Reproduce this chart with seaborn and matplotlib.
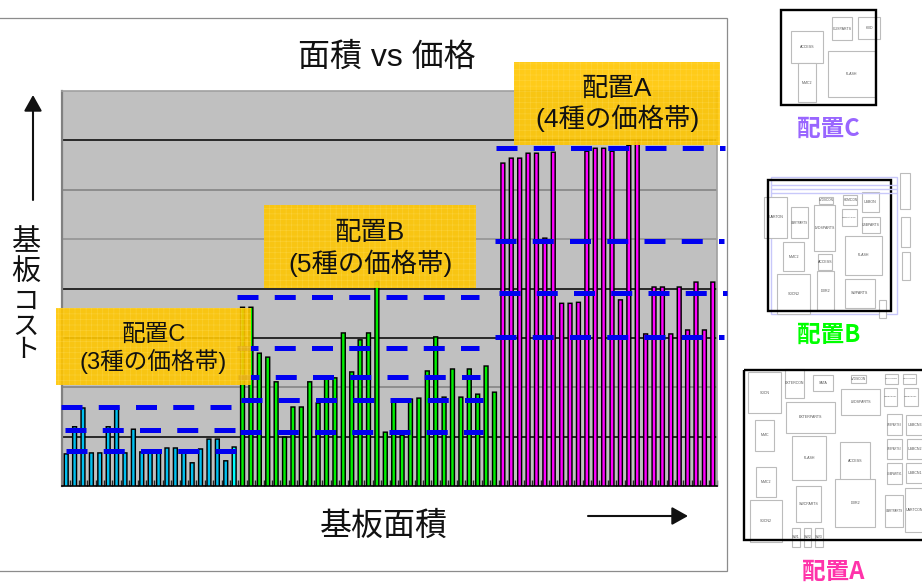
import numpy as np
import pandas as pd
import matplotlib
matplotlib.use("Agg")
import matplotlib.pyplot as plt
from matplotlib.patches import Rectangle, FancyArrowPatch
import seaborn as sns

sns.set_theme(style="white")
plt.rcParams['font.family'] = ['Liberation Sans', 'Noto Sans CJK JP', 'DejaVu Sans']
plt.rcParams['hatch.linewidth'] = 0.4

W, H = 922, 585

# Board cost for each design, ordered by board area
cost_c = [0.65, 1.20, 1.58, 0.67, 0.67, 1.20, 1.58, 0.67, 1.15, 0.69, 0.69, 0.69, 0.77, 0.77, 0.69, 0.47, 0.75,
          0.95, 0.95, 0.51, 0.79]
cost_b = [3.62, 3.62, 2.69, 2.61, 2.11, 0.99, 1.60, 1.60, 2.11, 1.68, 2.19, 2.19, 3.10, 2.31, 2.96, 3.10, 4.15,
          1.09, 1.70, 1.03, 1.76, 1.78, 2.33, 3.02, 1.80, 2.37, 1.80, 2.37, 1.86, 2.43, 1.90]
cost_a = [6.54, 6.64, 6.64, 6.74, 6.74, 5.02, 6.76, 3.70, 3.70, 3.72, 6.78, 6.84, 6.84, 6.78, 3.77, 6.90, 7.00,
          3.08, 4.03, 4.03, 3.08, 4.03, 3.16, 4.13, 3.16, 4.13]
layout = ["C"] * len(cost_c) + ["B"] * len(cost_b) + ["A"] * len(cost_a)
costs = cost_c + cost_b + cost_a

# Price bands per layout: cost level, first and last position along the area axis
bands_c = [(1.60, -0.62, 19.8), (1.13, -0.14, 20.17), (0.71, -0.02, 20.17)]
bands_b = [(3.83, 20.29, 49.2), (2.79, 20.29, 49.2), (2.21, 20.4, 49.3), (1.74, 20.77, 49.68), (1.09, 20.65, 49.68)]
bands_a = [(6.85, 51.23, 78.4), (4.96, 51.1, 78.3), (3.91, 51.5, 78.7), (3.02, 51.1, 78.3)]

frame = pd.DataFrame({"pos": range(len(costs)), "cost": costs, "layout": layout})
palette = {"C": "#00BFEF", "B": "#00F000", "A": "#FF00FF"}

fig = plt.figure(figsize=(W / 100, H / 100), dpi=100, facecolor="white")
fig.add_artist(Rectangle((-10 / W, 1 - 571 / H), 737 / W, 553 / H, transform=fig.transFigure,
                         fc="white", ec="#8c8c8c", lw=0.9, zorder=-1))

ax = fig.add_axes([62 / W, 1 - 486 / H, 655 / W, 395 / H])
ax.set_facecolor("#C0C0C0")
sns.barplot(data=frame, x="pos", y="cost", hue="layout", palette=palette, dodge=False, legend=False,
            width=0.46, edgecolor="black", linewidth=1.05, saturation=1, ax=ax, zorder=3)
ax.patches[20].set_facecolor("#00FFFF")
# Keep every bar the same width instead of rounding edges to whole pixels
for bar in ax.patches:
    bar.set_snap(False)
ax.set_xlim(-0.5, len(costs) - 0.5)
ax.set_ylim(0, 8)
ax.set_xlabel("")
ax.set_ylabel("")
ax.set_yticks([])
ax.set_xticks(np.arange(0, len(costs) + 1) - 0.5)
ax.set_xticklabels([])
ax.tick_params(axis="x", direction="in", length=4, width=1, bottom=True, zorder=4)
for i, tick in enumerate(ax.xaxis.get_major_ticks()):
    tick.tick1line.set_color("black" if i % 2 == 0 else "#8a8a8a")

# Alternating crisp and faded horizontal grid
grid_shades = {1: "black", 2: "#808080", 3: "#909090", 4: "black", 5: "black", 6: "#808080", 7: "black"}
for level, shade in grid_shades.items():
    ax.axhline(8 - level, color=shade, lw=1.1, zorder=1)

for side in ("top", "right"):
    ax.spines[side].set_color("#a0a0a0")
    ax.spines[side].set_linewidth(1.2)
ax.spines["left"].set_color("#808080")
ax.spines["left"].set_linewidth(1.6)
ax.spines["bottom"].set_color("black")
ax.spines["bottom"].set_linewidth(1.2)

for level, start, stop in bands_c + bands_b + bands_a:
    ax.plot([start, stop], [level, level], color="#0000F0", lw=3.6, clip_on=False, zorder=6,
            dash_capstyle="butt", linestyle=(0, (4.2, 3.25)))

# Overlay in figure pixels for callouts, captions and layout sketches
ov = fig.add_axes([0, 0, 1, 1], facecolor="none")
ov.set_xlim(0, W)
ov.set_ylim(H, 0)
ov.axis("off")
ov.set_zorder(10)

for x0, y0, x1, y1, txt, size, y_mid in [(56, 308, 251, 385, "配置C\n(3種の価格帯)", 17, 349),
                                         (264, 205, 476, 288, "配置B\n(5種の価格帯)", 19, 249),
                                         (514, 62, 720, 145, "配置A\n(4種の価格帯)", 19, 104.5)]:
    ov.add_patch(Rectangle((x0, y0), x1 - x0, y1 - y0, fc="#FFC600", ec="none", alpha=0.9, zorder=2))
    ov.add_patch(Rectangle((x0, y0), x1 - x0, y1 - y0, fc="none", ec=(1, 0.88, 0.4, 0.45), lw=0, hatch="+++",
                           zorder=2.5))
    ov.text((x0 + x1) / 2, y_mid, txt, ha="center", va="center", fontsize=size, color="#111111",
            linespacing=1.2, zorder=3)

ov.text(387, 58, "面積 vs 価格", ha="center", va="center", fontsize=23, color="#111111")
ov.text(384, 527, "基板面積", ha="center", va="center", fontsize=23, color="#111111")
for ch, y, size in zip("基板コスト", (242, 272, 302, 327, 350), (21, 21, 19, 19, 19)):
    ov.text(26, y, ch, ha="center", va="center", fontsize=size, color="#111111")

ov.add_patch(FancyArrowPatch((33, 200), (33, 95), arrowstyle="-|>,head_length=0.75,head_width=0.42",
                             mutation_scale=13, color="#111111", lw=1.5, shrinkA=0, shrinkB=0))
ov.add_patch(FancyArrowPatch((588, 516), (688, 516), arrowstyle="-|>,head_length=0.75,head_width=0.42",
                             mutation_scale=13, color="#111111", lw=1.5, shrinkA=0, shrinkB=0))


def sketch(origin, blocks, box, lw=0.8):
    """Draw one board outline with its component blocks, given in thirds of a pixel."""
    ox, oy = origin
    for x0, y0, x1, y1, name in blocks:
        ov.add_patch(Rectangle((ox + x0 / 3, oy + y0 / 3), (x1 - x0) / 3, (y1 - y0) / 3, fc="white",
                               ec="#bcbcbc", lw=lw, zorder=4, clip_on=True))
        if name:
            size = min(2.6, (x1 - x0) / 3 / (0.66 * len(name)) * 0.72)
            ov.text(ox + (x0 + x1) / 6, oy + (y0 + y1) / 6, name, ha="center", va="center", fontsize=size,
                    color="#555555", zorder=5, clip_on=True)
    x0, y0, x1, y1 = box
    ov.add_patch(Rectangle((ox + x0 / 3, oy + y0 / 3), (x1 - x0) / 3, (y1 - y0) / 3, fc="none", ec="black",
                           lw=1.7, zorder=6))


blocks_c = [(184, 94, 280, 190, "ACCESS"), (205, 190, 258, 307, "MMC2"), (307, 51, 365, 121, "CUSPARTS"),
            (383, 51, 451, 117, "HDD"), (293, 152, 435, 291, "FLASH")]
blocks_b = [(509, 10, 540, 117, ""), (514, 140, 540, 232, ""), (517, 247, 540, 330, ""),
            (103, 80, 172, 205, "UARTON"), (183, 112, 235, 203, "UARTPARTS"), (253, 105, 316, 243, "LVDSPARTS"),
            (266, 80, 310, 102, "LVDSCON"), (340, 76, 382, 104, "HDMICON"), (395, 65, 447, 125, "USBON"),
            (336, 117, 380, 167, "HDMIPARTS"), (395, 140, 449, 190, "USBPARTS"), (160, 217, 221, 303, "MMC2"),
            (263, 251, 307, 301, "ACCESS"), (344, 197, 456, 315, "FLASH"), (142, 311, 241, 431, "SDCN2"),
            (260, 303, 311, 420, "DDR2"), (344, 328, 434, 413, "SWPARTS"), (448, 390, 469, 444, "")]
blocks_a = [(55, 35, 152, 160, "SDCN"), (165, 26, 221, 115, "EXTERCON"), (248, 44, 310, 94, "SATA"),
            (362, 46, 408, 68, "LVDSCON"), (465, 41, 503, 71, "HDMICON1"), (520, 41, 558, 71, "HDMICON2"),
            (461, 83, 502, 137, "HDMIPARTS1"), (521, 83, 563, 137, "HDMIPARTS2"), (332, 88, 451, 164, "LVDSPARTS"),
            (167, 127, 315, 218, "EXTERPARTS"), (75, 181, 133, 272, "MMC"), (470, 163, 516, 225, "USBPARTS3"),
            (527, 165, 580, 224, "USBCN3"), (470, 236, 516, 298, "USBPARTS2"), (530, 238, 580, 298, "USBCN2"),
            (470, 309, 517, 373, "USBPARTS1"), (529, 309, 580, 369, "USBCN1"), (187, 227, 289, 360, "FLASH"),
            (329, 245, 421, 360, "ACCESS"), (78, 321, 137, 412, "MMC2"), (315, 357, 436, 502, "DDR2"),
            (198, 377, 274, 485, "SWCPARTS"), (466, 404, 518, 500, "UARTPARTS"), (526, 384, 580, 516, "UARTCON"),
            (59, 420, 156, 547, "SDCN2"), (187, 503, 209, 561, "SW1"), (221, 503, 243, 561, "SW2"),
            (256, 503, 278, 561, "SW3")]

# Faint board-edge traces behind layout B
ov.add_patch(Rectangle((730 + 123 / 3, 170 + 20 / 3), 377 / 3, 412 / 3, fc="none", ec="#c8c8fa", lw=1.0, zorder=3))
for yz in (45, 58, 70):
    ov.plot([730 + 123 / 3, 730 + 500 / 3], [170 + yz / 3] * 2, color="#c8c8fa", lw=1.0, zorder=7)

sketch((730, 0), blocks_c, (153, 30, 438, 316))
sketch((730, 170), blocks_b, (113, 30, 484, 422))
sketch((730, 360), blocks_a, (41, 30, 600, 540))

for x, y, txt, col in [(828, 129, "配置C", "#9966FF"), (829, 335, "配置B", "#00FF00"), (833, 572, "配置A", "#FF33AA")]:
    ov.text(x, y, txt, ha="center", va="center", fontsize=17, fontweight="bold", color=col,
            family=['Noto Sans CJK JP', 'DejaVu Sans'])

fig.savefig("out.png", dpi=100)
